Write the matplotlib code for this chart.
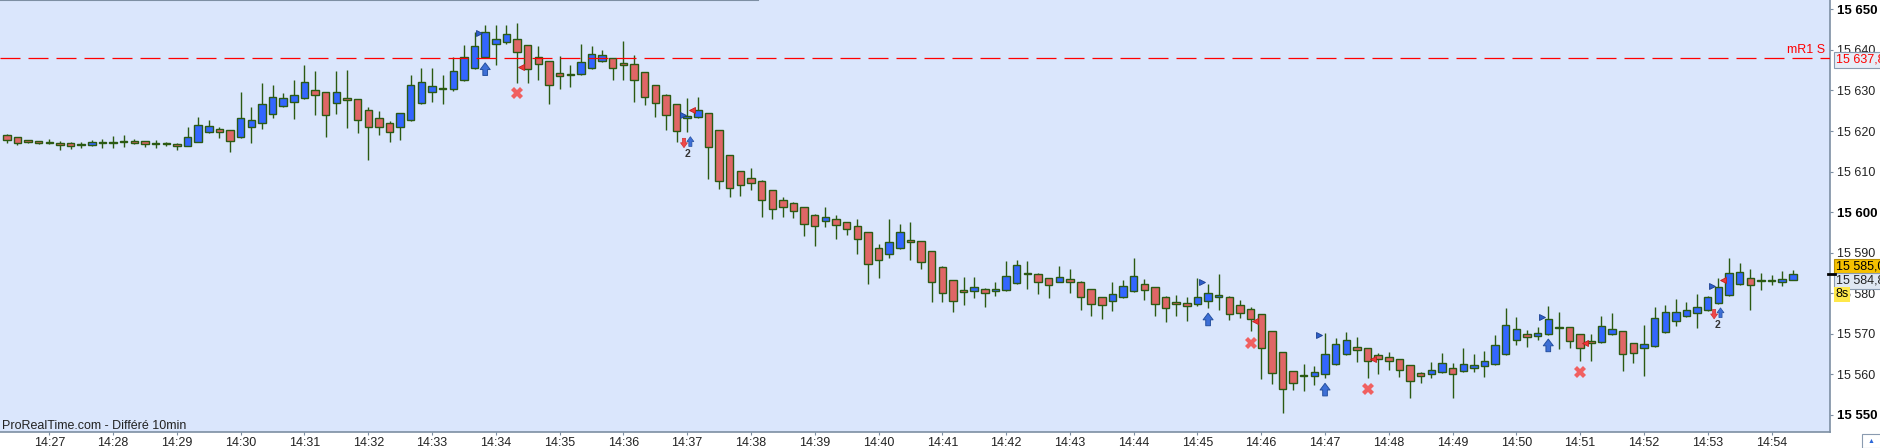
import matplotlib
matplotlib.use("Agg")
import matplotlib.pyplot as plt
import matplotlib.transforms as mtrans
from matplotlib.patches import Rectangle
import numpy as np
import pandas as pd

plt.rcParams['font.family'] = ['Liberation Sans', 'DejaVu Sans']

# 10 second candles, 14:26:20 -> 14:54:20
opens = [15619.0, 15618.5, 15617.7, 15617.5, 15617.3, 15617.1, 15617.0, 15616.5, 15616.5, 15617.0,
         15617.0, 15617.2, 15617.5, 15617.5, 15616.8, 15616.8, 15616.7, 15616.4, 15617.4, 15619.7,
         15620.4, 15620.2, 15618.6, 15620.9, 15621.9, 15624.1, 15626.2, 15627.1, 15628.1, 15630.0,
         15629.5, 15626.8, 15628.1, 15627.8, 15625.3, 15623.1, 15622.1, 15620.9, 15622.6, 15626.8,
         15629.5, 15630.3, 15630.3, 15632.5, 15635.5, 15638.2, 15641.4, 15641.9, 15642.8, 15641.1,
         15638.2, 15637.2, 15634.2, 15633.9, 15634.0, 15635.5, 15637.2, 15637.9, 15636.8, 15636.4,
         15634.5, 15631.3, 15629.0, 15626.6, 15623.1, 15623.4, 15624.4, 15620.2, 15614.0, 15610.1,
         15608.3, 15607.8, 15605.4, 15602.9, 15602.2, 15601.2, 15599.2, 15597.7, 15598.2, 15597.5,
         15596.5, 15595.0, 15591.1, 15589.6, 15591.1, 15593.1, 15592.8, 15590.3, 15586.6, 15583.2,
         15580.7, 15580.5, 15581.0, 15580.5, 15580.7, 15582.5, 15584.8, 15584.7, 15583.7, 15582.9,
         15583.4, 15582.9, 15581.0, 15579.0, 15578.0, 15579.0, 15580.5, 15582.2, 15581.5, 15579.2,
         15577.8, 15577.5, 15577.3, 15578.0, 15579.0, 15579.2, 15577.0, 15576.0, 15574.8, 15570.6,
         15565.4, 15560.8, 15559.7, 15559.5, 15560.0, 15562.5, 15565.0, 15566.7, 15566.4, 15564.7,
         15564.2, 15563.7, 15562.2, 15560.3, 15560.0, 15560.5, 15561.5, 15560.8, 15561.7, 15562.0,
         15562.5, 15565.0, 15568.4, 15569.9, 15569.4, 15569.9, 15571.5, 15571.6, 15569.9, 15568.2,
         15567.9, 15569.9, 15570.6, 15567.7, 15566.4, 15566.9, 15570.4, 15573.1, 15574.3, 15575.1,
         15575.8, 15577.5, 15579.5, 15582.2, 15583.7, 15583.0, 15583.0, 15582.9, 15583.3]
highs = [15619.2, 15618.5, 15617.8, 15617.6, 15618.0, 15617.6, 15617.2, 15617.4, 15617.7, 15618.0,
         15618.8, 15619.0, 15618.0, 15617.5, 15617.7, 15617.2, 15617.0, 15621.0, 15623.5, 15622.7,
         15621.0, 15620.2, 15629.7, 15625.8, 15631.8, 15631.3, 15629.3, 15632.6, 15636.3, 15634.9,
         15629.6, 15634.9, 15635.0, 15627.9, 15625.8, 15624.9, 15622.5, 15624.4, 15633.8, 15635.5,
         15635.5, 15633.8, 15638.3, 15641.1, 15644.5, 15646.1, 15646.1, 15646.1, 15646.6, 15641.2,
         15641.0, 15637.2, 15638.5, 15636.3, 15641.4, 15641.0, 15640.0, 15638.0, 15642.2, 15638.7,
         15634.5, 15631.3, 15629.1, 15626.6, 15628.1, 15628.3, 15624.4, 15620.2, 15614.0, 15610.1,
         15610.8, 15607.9, 15605.4, 15603.7, 15602.5, 15601.2, 15599.5, 15601.2, 15599.2, 15597.5,
         15598.2, 15595.0, 15592.1, 15598.2, 15597.0, 15597.5, 15592.8, 15590.3, 15586.7, 15583.2,
         15583.9, 15583.9, 15581.2, 15582.9, 15588.0, 15588.1, 15588.0, 15584.9, 15583.7, 15586.7,
         15586.1, 15583.0, 15581.0, 15579.0, 15582.9, 15583.2, 15588.7, 15583.4, 15581.5, 15579.3,
         15579.5, 15579.2, 15583.7, 15582.4, 15584.8, 15579.3, 15578.3, 15576.5, 15574.8, 15570.6,
         15565.5, 15560.8, 15562.5, 15562.0, 15570.1, 15568.9, 15570.4, 15569.1, 15566.5, 15565.2,
         15565.4, 15563.8, 15562.3, 15560.5, 15563.0, 15565.2, 15562.7, 15566.4, 15565.0, 15565.7,
         15569.7, 15576.3, 15574.1, 15570.9, 15571.6, 15576.8, 15575.5, 15571.6, 15569.9, 15569.9,
         15574.3, 15575.1, 15570.6, 15567.7, 15572.3, 15576.5, 15577.0, 15578.5, 15577.8, 15579.7,
         15579.3, 15583.7, 15588.6, 15587.4, 15585.9, 15584.9, 15584.4, 15585.4, 15585.7]
lows = [15617.0, 15616.6, 15617.0, 15616.7, 15616.9, 15615.2, 15615.5, 15615.7, 15616.4, 15615.7,
        15615.9, 15616.1, 15616.9, 15616.1, 15615.9, 15616.4, 15615.2, 15616.3, 15617.3, 15619.6,
        15618.4, 15614.8, 15618.4, 15617.1, 15620.6, 15623.3, 15625.8, 15623.0, 15628.0, 15624.0,
        15618.6, 15624.3, 15620.8, 15619.4, 15612.9, 15619.1, 15617.4, 15617.8, 15622.5, 15626.7,
        15627.1, 15626.7, 15629.9, 15632.4, 15635.4, 15638.1, 15636.2, 15641.4, 15631.9, 15631.8,
        15632.5, 15626.7, 15630.3, 15630.9, 15633.9, 15635.4, 15637.1, 15632.5, 15632.5, 15627.1,
        15626.3, 15623.4, 15620.2, 15617.2, 15619.7, 15623.1, 15608.1, 15605.6, 15603.7, 15603.9,
        15605.4, 15598.7, 15598.2, 15598.9, 15598.5, 15594.0, 15591.7, 15596.4, 15593.5, 15594.4,
        15589.8, 15582.4, 15583.8, 15588.8, 15591.0, 15588.1, 15586.1, 15577.9, 15577.9, 15575.5,
        15577.2, 15578.9, 15576.7, 15579.4, 15580.5, 15582.4, 15581.0, 15579.7, 15578.9, 15582.7,
        15580.1, 15575.8, 15574.5, 15573.7, 15575.7, 15578.9, 15580.4, 15578.3, 15574.5, 15572.8,
        15574.5, 15573.2, 15576.8, 15576.3, 15575.8, 15573.3, 15573.8, 15570.6, 15558.8, 15557.6,
        15550.4, 15556.1, 15555.8, 15557.3, 15559.0, 15562.4, 15564.9, 15563.0, 15559.0, 15560.0,
        15561.2, 15559.3, 15554.1, 15557.8, 15559.0, 15560.3, 15554.1, 15560.5, 15560.5, 15559.3,
        15562.4, 15564.9, 15567.2, 15566.7, 15568.4, 15569.8, 15566.2, 15566.4, 15563.2, 15563.2,
        15567.8, 15569.8, 15560.8, 15562.7, 15559.5, 15566.8, 15570.3, 15571.9, 15574.2, 15571.4,
        15575.7, 15577.4, 15579.4, 15582.1, 15575.8, 15580.7, 15582.0, 15581.7, 15583.2]
closes = [15617.7, 15617.0, 15617.3, 15617.0, 15617.1, 15616.5, 15616.3, 15616.6, 15617.2, 15617.0,
          15617.3, 15617.3, 15617.1, 15616.7, 15617.0, 15617.0, 15616.2, 15618.5, 15621.6, 15621.2,
          15619.7, 15617.5, 15623.1, 15622.6, 15626.6, 15628.5, 15628.1, 15629.0, 15632.0, 15629.0,
          15623.9, 15629.5, 15627.6, 15622.6, 15620.9, 15620.9, 15619.7, 15624.4, 15631.3, 15632.2,
          15631.0, 15630.3, 15634.7, 15638.2, 15640.9, 15644.3, 15642.6, 15643.8, 15639.4, 15635.2,
          15636.4, 15631.3, 15633.5, 15633.8, 15636.9, 15639.1, 15638.7, 15635.5, 15636.2, 15632.7,
          15628.3, 15626.8, 15623.9, 15619.9, 15623.6, 15625.3, 15616.0, 15607.8, 15605.9, 15606.6,
          15607.3, 15602.9, 15600.7, 15601.2, 15600.4, 15597.2, 15596.5, 15598.7, 15596.8, 15595.8,
          15593.5, 15587.1, 15588.1, 15592.6, 15595.0, 15592.6, 15587.6, 15582.9, 15580.0, 15578.0,
          15580.2, 15581.5, 15580.0, 15581.0, 15584.2, 15586.9, 15585.0, 15582.7, 15582.0, 15583.9,
          15582.7, 15579.0, 15577.3, 15577.0, 15579.7, 15581.7, 15584.2, 15580.7, 15577.3, 15576.3,
          15577.3, 15576.8, 15579.0, 15580.0, 15579.5, 15574.8, 15575.1, 15573.6, 15566.4, 15560.3,
          15556.3, 15558.0, 15559.8, 15560.5, 15565.0, 15567.4, 15568.4, 15565.9, 15563.2, 15563.7,
          15563.2, 15561.0, 15558.3, 15559.5, 15561.2, 15562.7, 15560.0, 15562.5, 15562.2, 15563.2,
          15567.2, 15572.1, 15571.1, 15569.1, 15570.1, 15573.6, 15571.6, 15568.2, 15566.4, 15567.7,
          15571.9, 15571.1, 15565.0, 15565.2, 15567.4, 15573.8, 15575.5, 15575.5, 15575.8, 15576.5,
          15579.2, 15581.5, 15584.9, 15585.2, 15582.0, 15583.1, 15583.3, 15583.5, 15584.8]

times = pd.date_range("2024-01-01 14:26:20", periods=len(opens), freq="10s")

resistance = 15637.88
last_price = 15584.81
bid_price = 15585.00

# signal markers (candle position, price)
buy_arrow_x = [45, 113, 124, 145]
buy_arrow_y = [15636.8, 15575.1, 15557.8, 15568.7]
cross_x = [48, 117, 128, 148]
cross_y = [15629.3, 15567.8, 15556.3, 15560.5]
blue_flag_x = [44.4, 63.6, 112.4, 123.4, 144.4, 160.4]
blue_flag_y = [15644.2, 15624.0, 15582.8, 15569.7, 15574.2, 15581.8]
red_flag_x = [48.4, 64.5, 117.4, 128.5, 148.5, 161.4]
red_flag_y = [15635.8, 15625.3, 15573.2, 15563.8, 15567.7, 15583.2]
pair_x = [64.0, 160.9]
pair_y = [15617.0, 15574.8]

BG = '#dae6fc'
UP = '#3366ff'
DOWN = '#e06666'
EDGE = '#2b5a12'
AXC = '#7d8fa3'

W, H = 1881, 448
fig = plt.figure(figsize=(W / 100, H / 100), dpi=100, facecolor='white')
ax = fig.add_axes([0, 16 / H, 1830 / W, 432 / H])
ax.set_facecolor(BG)

o = np.array(opens); c = np.array(closes)
hi = np.array(highs); lo = np.array(lows)
x = np.arange(len(o))
colors = [UP if cc > oo else DOWN for oo, cc in zip(o, c)]
body_bot = np.minimum(o, c)
body_h = np.maximum(np.abs(c - o), 0.25)

ax.vlines(x, lo, hi, color=EDGE, lw=1.0, zorder=2)
ax.bar(x, body_h, bottom=body_bot, width=0.7, color=colors, edgecolor=EDGE,
       linewidth=1.0, zorder=3)

# resistance line
ax.axhline(resistance, color='#ff0000', lw=0.9, dashes=(16, 6.4), zorder=4)
blend = mtrans.blended_transform_factory(ax.transAxes, ax.transData)
ax.annotate('mR1 S', xy=(0.9975, resistance), xycoords=blend, xytext=(0, 2),
            textcoords='offset points', ha='right', va='bottom', color='#ff0000',
            fontsize=9)

# signals
for xi, yi in zip(buy_arrow_x, buy_arrow_y):
    ax.annotate('', xy=(xi, yi), xytext=(xi, yi - 3.1),
                arrowprops=dict(arrowstyle='simple,head_length=0.6,head_width=0.9,tail_width=0.42',
                                fc='#3d6fd6', ec='#25509f', lw=0.7, mutation_scale=8,
                                shrinkA=0, shrinkB=0), zorder=5)
ax.plot(cross_x, cross_y, ls='none', marker='X', ms=9, color='#f06060', mew=0, zorder=5)
ax.plot(blue_flag_x, blue_flag_y, ls='none', marker='>', ms=4.5, color='#2d5ec8',
        mec='#1b3f90', mew=0.6, zorder=5)
ax.plot(red_flag_x, red_flag_y, ls='none', marker='<', ms=4.5, color='#f03838',
        mec='#c02020', mew=0.6, zorder=5)
for xi, yi in zip(pair_x, pair_y):
    ax.annotate('', xy=(xi - 0.3, yi - 1.1), xytext=(xi - 0.3, yi + 1.2),
                arrowprops=dict(arrowstyle='simple,head_length=0.7,head_width=1.0,tail_width=0.45',
                                fc='#f04848', ec='#d03030', lw=0.5, mutation_scale=5,
                                shrinkA=0, shrinkB=0), zorder=5)
    ax.annotate('', xy=(xi + 0.3, yi + 1.6), xytext=(xi + 0.3, yi - 0.8),
                arrowprops=dict(arrowstyle='simple,head_length=0.7,head_width=1.0,tail_width=0.45',
                                fc='#3d6fd6', ec='#25509f', lw=0.5, mutation_scale=5,
                                shrinkA=0, shrinkB=0), zorder=5)
    ax.text(xi, yi - 2.6, '2', ha='center', va='center', fontsize=7.5, color='#333333',
            fontweight='bold', zorder=5)

# axes
ax.set_xlim(-0.64, 171.5)
ax.set_ylim(15545.8, 15652.3)
for s in ['left', 'top']:
    ax.spines[s].set_visible(False)
for s in ['right', 'bottom']:
    ax.spines[s].set_color(AXC)
    ax.spines[s].set_linewidth(1.2)
ax.plot([0, 758 / 1830], [1, 1], transform=ax.transAxes, color=AXC, lw=1.5, clip_on=False)

xt = [i for i, t in enumerate(times) if t.second == 0]
ax.set_xticks(xt)
ax.set_xticklabels([times[i].strftime('%H:%M') for i in xt])
ax.tick_params(axis='x', direction='out', length=2.5, width=0.8, color=AXC, pad=1,
               labelsize=9, labelcolor='#222222')

yt = np.arange(15550, 15651, 10)
ax.yaxis.tick_right()
ax.set_yticks(yt)
ax.set_yticklabels(['%d %03d' % (v // 1000, v % 1000) for v in yt])
ax.tick_params(axis='y', direction='out', length=2.5, width=0.8, color=AXC, pad=2.5,
               labelsize=9, labelcolor='#222222')
for lab, v in zip(ax.get_yticklabels(), yt):
    if v % 50 == 0:
        lab.set_fontweight('bold')
        lab.set_color('black')
        lab.set_fontsize(9.5)

# price tags on the scale
tag = dict(xycoords=blend, textcoords='offset points', ha='left', va='center',
           fontsize=9, annotation_clip=False, zorder=6)
ax.annotate('15 637,88', xy=(1.0, resistance), xytext=(4, -1), color='#ff0000',
            bbox=dict(boxstyle='square,pad=0.15', fc='#e6edf7', ec='#8a9bb0', lw=0.8), **tag)
ax.annotate('15 585,00', xy=(1.0, bid_price), xytext=(4, 4.5), color='black',
            bbox=dict(boxstyle='square,pad=0.15', fc='#f5c000', ec='#b89000', lw=0.8), **tag)
ax.annotate('15 584,81', xy=(1.0, last_price), xytext=(4, -5.2), color='#222222',
            bbox=dict(boxstyle='square,pad=0.15', fc='#dfe7f2', ec='#8a9bb0', lw=0.8), **tag)
ax.annotate('8s', xy=(1.0, last_price), xytext=(4, -14.6), color='black',
            bbox=dict(boxstyle='square,pad=0.12', fc='#ffe84a', ec='none'), **tag)
ax.plot([0.999, 1.003], [last_price, last_price], transform=blend, color='black', lw=2,
        clip_on=False, zorder=6)

fig.text(2 / W, (H - 426) / H, 'ProRealTime.com - Différé 10min', ha='left', va='center',
         fontsize=9, color='#222222')

# small toolbar icon bottom right
fig.patches.append(Rectangle((1862 / W, 0), 19 / W, 14 / H, transform=fig.transFigure,
                             fc='white', ec='#8a9bb0', lw=0.8))
fig.text(1871 / W, 7 / H, '\u25b2', ha='center', va='center', fontsize=5, color='#2a66d8')

fig.savefig('out.png', dpi=100, facecolor='white')
